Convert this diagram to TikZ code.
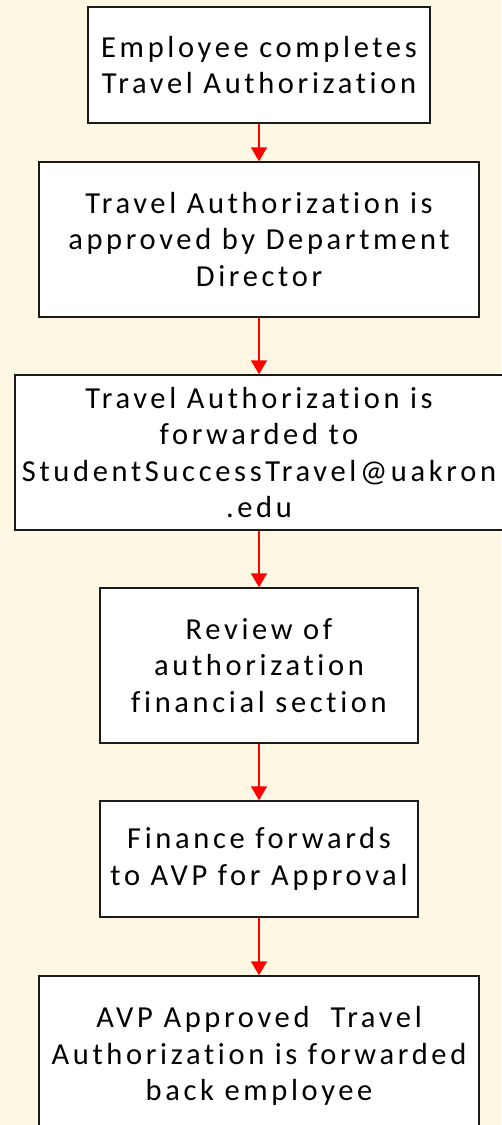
\documentclass[tikz,border=0pt]{standalone}
\usepackage{fontspec}
\usepackage{xcolor}
\usetikzlibrary{arrows.meta, positioning}
\setmainfont{Carlito}[LetterSpace=12, Ligatures=NoCommon]
\definecolor{pagecream}{HTML}{FDF7E4}
\definecolor{flowred}{HTML}{FF0000}
\definecolor{boxline}{HTML}{1A1A1A}

\begin{document}
\begin{tikzpicture}[
    x=1pt, y=1pt,
    box/.style={rectangle, draw=boxline, line width=1.5pt, fill=white, inner sep=0pt, align=center,
        font=\fontsize{30.5}{36.5}\selectfont},
    arrow/.style={-{Triangle[length=14pt, width=16pt]}, line width=1.8pt, color=flowred}
]

% Page background
\fill[pagecream] (0,0) rectangle (501,-1125);
\useasboundingbox (0,0) rectangle (501,-1125);

% Steps of the travel approval
\node[box, minimum width=342, minimum height=116] (complete) at (259,-65) {Employee completes\\Travel Authorization};
\node[box, minimum width=440, minimum height=155] (director) at (259,-239.5) {Travel Authorization is\\approved by Department\\Director};
\node[box, minimum width=488, minimum height=155] (forward) at (259,-452.5) {Travel Authorization is\\forwarded to\\StudentSuccessTravel@uakron\\.edu};
\node[box, minimum width=318, minimum height=155] (review) at (259,-665.5) {Review of\\authorization\\financial section};
\node[box, minimum width=318, minimum height=116] (finance) at (259,-859) {Finance forwards\\to AVP for Approval};
\node[box, minimum width=440, minimum height=160] (avp) at (259,-1056) {AVP Approved \ Travel\\Authorization is forwarded\\back employee};

% Connectors
\draw[arrow] (complete) -- (director);
\draw[arrow] (director) -- (forward);
\draw[arrow] (forward) -- (review);
\draw[arrow] (review) -- (finance);
\draw[arrow] (finance) -- (avp);

\end{tikzpicture}
\end{document}
